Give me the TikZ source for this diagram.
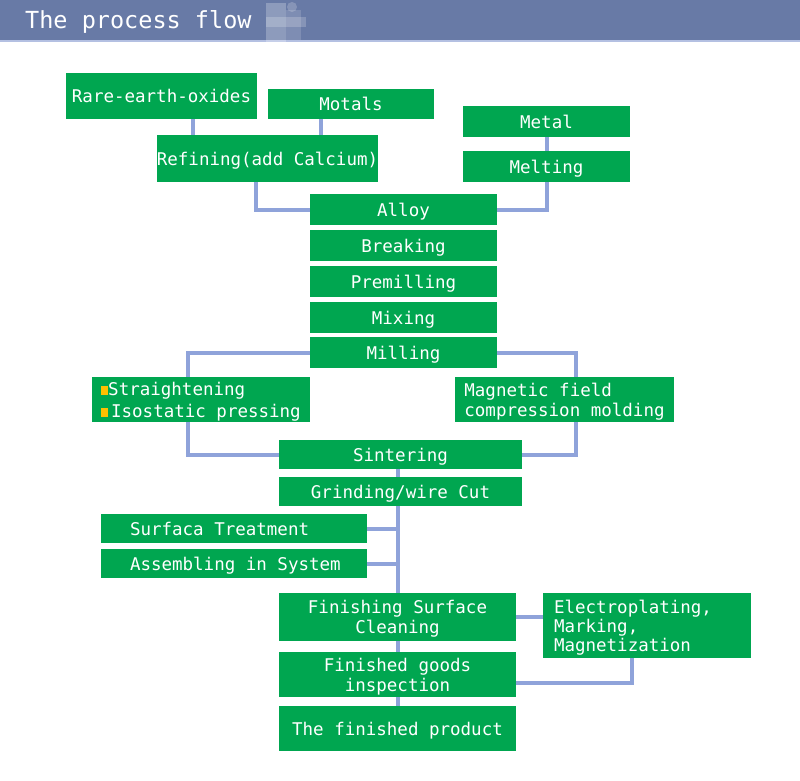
\documentclass[tikz,border=0pt]{standalone}
\usepackage{fontspec}
\setmonofont{DejaVu Sans Mono}
\usepackage{tikz}
\usetikzlibrary{positioning}
\definecolor{boxgreen}{RGB}{0,166,80}
\definecolor{linkblue}{RGB}{143,163,218}
\definecolor{bandblue}{RGB}{104,122,166}
\definecolor{bandedge}{RGB}{180,192,226}
\definecolor{bulletyellow}{RGB}{255,192,0}
\tikzset{
	stepbox/.style={fill=boxgreen, text=white, inner sep=0pt, text depth=0pt, font=\ttfamily\fontsize{17.5}{20}\selectfont, align=center},
	link/.style={draw=linkblue, line width=4pt}
}
\newcommand{\bul}{{\color{bulletyellow}\rule{7pt}{9pt}}}

\begin{document}
\begin{tikzpicture}[x=1pt, y=-1pt]
				\useasboundingbox (0,0) rectangle (800,781);

				%Header
				\fill[bandblue] (0,0) rectangle (800,42);
				\fill[bandedge] (0,40.5) rectangle (800,42.5);
				\fill[white, opacity=0.25] (266,3) rectangle (286,42);
				\fill[white, opacity=0.2] (266,17) rectangle (306,27);
				\fill[white, opacity=0.15] (286,10) rectangle (301,40);
				\fill[white, opacity=0.2] (292,7) circle (5);
				\node[anchor=base west, text=white, inner sep=0pt, font=\ttfamily\fontsize{23.5}{28}\selectfont] (title) at (25,29) {The process flow};

				%Nodes
				\node[stepbox, minimum width=191, minimum height=46] (rareearth) at (161.5,96) {Rare-earth-oxides};
				\node[stepbox, minimum width=166, minimum height=30] (motals) at (351,104) {Motals};
				\node[stepbox, minimum width=221, minimum height=47] (refining) at (267.5,158.5) {Refining(add Calcium)};
				\node[stepbox, minimum width=167, minimum height=31] (metal) at (546.5,121.5) {Metal};
				\node[stepbox, minimum width=167, minimum height=31] (melting) at (546.5,166.5) {Melting};

				\node[stepbox, minimum width=187, minimum height=31] (alloy) at (403.5,209.5) {Alloy};
				\node[stepbox, minimum width=187, minimum height=31] (breaking) at (403.5,245.5) {Breaking};
				\node[stepbox, minimum width=187, minimum height=31] (premilling) at (403.5,281.5) {Premilling};
				\node[stepbox, minimum width=187, minimum height=31] (mixing) at (403.5,317.5) {Mixing};
				\node[stepbox, minimum width=187, minimum height=31] (milling) at (403.5,352.5) {Milling};

				\node[stepbox, minimum width=218, minimum height=45, align=left, font=\ttfamily\fontsize{17.5}{22}\selectfont] (straight) at (201,399.5) {\bul Straightening\\\bul\,Isostatic pressing};
				\node[stepbox, minimum width=219, minimum height=45, align=left] (magnetic) at (564.5,399.5) {Magnetic field\\compression molding};

				\node[stepbox, minimum width=243, minimum height=29] (sintering) at (400.5,454.5) {Sintering};
				\node[stepbox, minimum width=243, minimum height=29] (grinding) at (400.5,491.5) {Grinding/wire Cut};

				\node[stepbox, minimum width=266, minimum height=29] (surfaca) at (234,528.5) {\makebox[208pt][l]{Surfaca Treatment}};
				\node[stepbox, minimum width=266, minimum height=29] (assembling) at (234,563.5) {\makebox[208pt][l]{Assembling in System}};

				\node[stepbox, minimum width=237, minimum height=48] (finishing) at (397.5,617) {Finishing Surface\\Cleaning};
				\node[stepbox, minimum width=237, minimum height=45] (inspection) at (397.5,674.5) {Finished goods\\inspection};
				\node[stepbox, minimum width=237, minimum height=45] (product) at (397.5,728.5) {The finished product};
				\node[stepbox, minimum width=208, minimum height=65, font=\ttfamily\fontsize{17.5}{19}\selectfont] (electro) at (647,625.5) {\makebox[186pt][l]{Electroplating,}\\\makebox[186pt][l]{Marking,}\\\makebox[186pt][l]{Magnetization}};

				%Lines
				\draw[link] (rareearth.south -| 193,0) -- (refining.north -| 193,0);
				\draw[link] (motals.south -| 321,0) -- (refining.north -| 321,0);
				\draw[link] (refining.south -| 256,0) |- (alloy.west);
				\draw[link] (metal.south) -- (melting.north);
				\draw[link] (melting.south) |- (alloy.east);

				\draw[link] (milling.west) -| ([xshift=-13]straight.north);
				\draw[link] ([xshift=-13]straight.south) |- (sintering.west);
				\draw[link] (milling.east) -| ([xshift=11.5]magnetic.north);
				\draw[link] ([xshift=11.5]magnetic.south) |- (sintering.east);

				\draw[link] (sintering.south -| finishing.north) -- (grinding.north -| finishing.north);
				\draw[link] (grinding.south -| finishing.north) -- (finishing.north);
				\draw[link] (surfaca.east) -- (surfaca.east -| finishing.north);
				\draw[link] (assembling.east) -- (assembling.east -| finishing.north);

				\draw[link] (finishing.south) -- (inspection.north);
				\draw[link] (inspection.south) -- (product.north);
				\draw[link] (finishing.east) -- (finishing.east -| electro.west);
				\draw[link] ([xshift=-15]electro.south) |- ([yshift=-8.5]inspection.east);

			\end{tikzpicture}
\end{document}
